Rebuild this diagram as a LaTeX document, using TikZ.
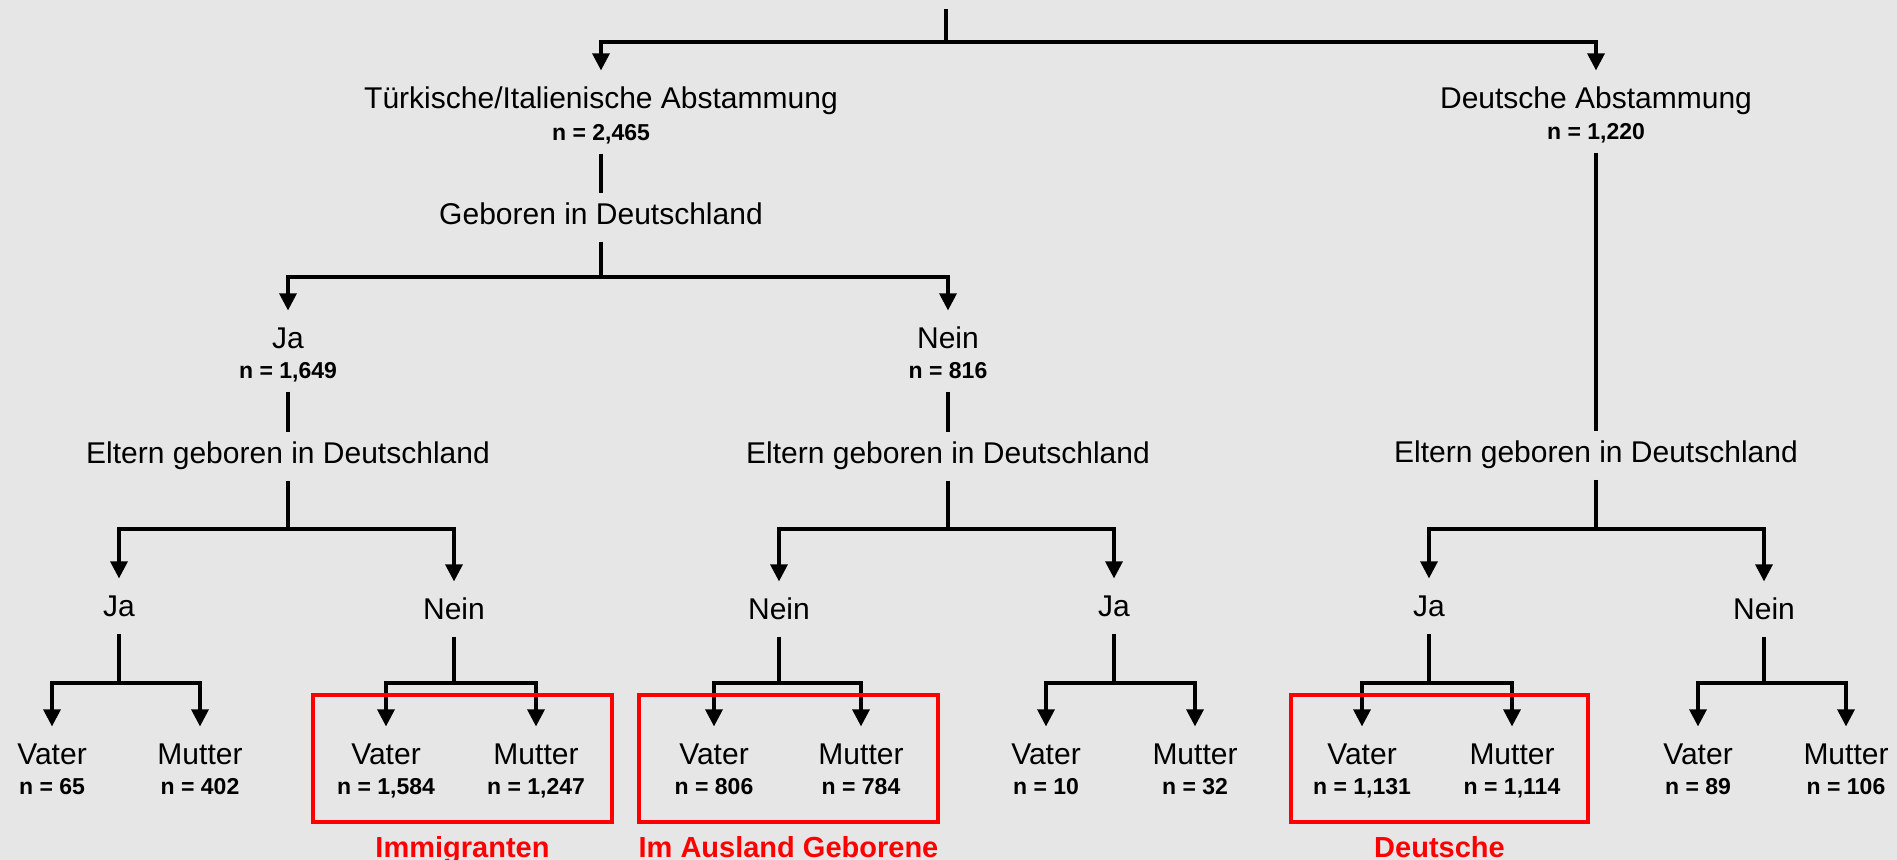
\documentclass[tikz,border=0pt]{standalone}
\usepackage{fontspec}
\setmainfont{Liberation Sans}
\usetikzlibrary{arrows.meta}
\definecolor{hgrund}{HTML}{E6E6E6}
\definecolor{rot}{HTML}{FF0000}

\begin{document}
\begin{tikzpicture}[x=0.5pt, y=-0.5pt, line width=1.6pt,
  lbl/.style={anchor=base, inner sep=0pt, inner xsep=1pt, text height=11pt, text depth=3pt, font=\fontsize{15pt}{18pt}\selectfont},
  nlbl/.style={anchor=base, inner sep=0pt, inner xsep=1pt, text height=8.5pt, text depth=2.5pt, font=\fontsize{11.5pt}{14pt}\selectfont\bfseries},
  pfeil/.style={-{Triangle[width=8.5pt,length=8.5pt]}, shorten >=7.5pt},
  stamm/.style={shorten <=3pt, shorten >=4pt},
  abzweig/.style={shorten <=4.5pt},
  rahmen/.style={draw=rot, line width=2pt},
  rotlbl/.style={anchor=base, inner sep=0pt, text=rot, font=\fontsize{14.5pt}{17pt}\selectfont\bfseries}]
% Hintergrund
\fill[hgrund] (0,0) rectangle (1897,860);
\useasboundingbox (0,0) rectangle (1897,860);
% Wurzel
\coordinate (oben) at (946,9);
\coordinate (j0) at (946,42);
\draw (oben) -- (j0);
% Abstammung
\node[lbl] (tuerk) at (601,109) {Türkische/Italienische Abstammung};
\node[nlbl] (tuerkn) at (601,141) {n = 2,465};
\node[lbl] (dt) at (1596,109) {Deutsche Abstammung};
\node[nlbl] (dtn) at (1596,140) {n = 1,220};
\draw[pfeil] (j0) -| (tuerk);
\draw[pfeil] (j0) -| (dt);
% Geboren in Deutschland
\node[lbl] (geb) at (601,225) {Geboren in Deutschland};
\draw[stamm] (tuerkn) -- (geb);
\coordinate (j1) at (601,277);
\draw[abzweig] (geb) -- (j1);
\node[lbl] (gja) at (288,349) {Ja};
\node[nlbl] (gjan) at (288,379) {n = 1,649};
\node[lbl] (gnein) at (948,349) {Nein};
\node[nlbl] (gneinn) at (948,379) {n = 816};
\draw[pfeil] (j1) -| (gja);
\draw[pfeil] (j1) -| (gnein);
% Eltern geboren in Deutschland
\node[lbl] (eltA) at (288,464) {Eltern geboren in Deutschland};
\node[lbl] (eltB) at (948,464) {Eltern geboren in Deutschland};
\node[lbl] (eltC) at (1596,463) {Eltern geboren in Deutschland};
\draw[stamm] (gjan) -- (eltA);
\draw[stamm] (gneinn) -- (eltB);
\draw[stamm] (dtn) -- (eltC);
\coordinate (jA) at (288,529);
\coordinate (jB) at (948,529);
\coordinate (jC) at (1596,529);
\draw[abzweig] (eltA) -- (jA);
\draw[abzweig] (eltB) -- (jB);
\draw[abzweig] (eltC) -- (jC);
\node[lbl] (aJa) at (119,617) {Ja};
\node[lbl] (aNein) at (454,620) {Nein};
\node[lbl] (bNein) at (779,620) {Nein};
\node[lbl] (bJa) at (1114,617) {Ja};
\node[lbl] (cJa) at (1429,617) {Ja};
\node[lbl] (cNein) at (1764,620) {Nein};
\foreach \j/\k in {jA/aJa, jA/aNein, jB/bNein, jB/bJa, jC/cJa, jC/cNein}
  \draw[pfeil] (\j) -| (\k);
% Vater / Mutter
\foreach \p/\xv/\xm/\nv/\nm in {aJa/52/200/65/402, aNein/386/536/{1,584}/{1,247}, bNein/714/861/806/784, bJa/1046/1195/10/32, cJa/1362/1512/{1,131}/{1,114}, cNein/1698/1846/89/106}{
  \coordinate (k\p) at (\p |- 0,683);
  \draw[abzweig] (\p) -- (k\p);
  \node[lbl] (v\p) at (\xv,765) {Vater};
  \node[nlbl] (vn\p) at (\xv,795) {n = \nv};
  \node[lbl] (m\p) at (\xm,765) {Mutter};
  \node[nlbl] (mn\p) at (\xm,795) {n = \nm};
  \draw[pfeil] (k\p) -| (v\p);
  \draw[pfeil] (k\p) -| (m\p);
}
% Gruppen
\foreach \b/\xa/\xb/\txt in {imm/313/612/Immigranten, ausl/639/938/Im Ausland Geborene, deu/1291/1588/Deutsche}{
  \draw[rahmen] (\xa,695) rectangle (\xb,822);
  \node[rotlbl] (\b) at ({(\xa+\xb)/2},857) {\txt};
}
\end{tikzpicture}
\end{document}
